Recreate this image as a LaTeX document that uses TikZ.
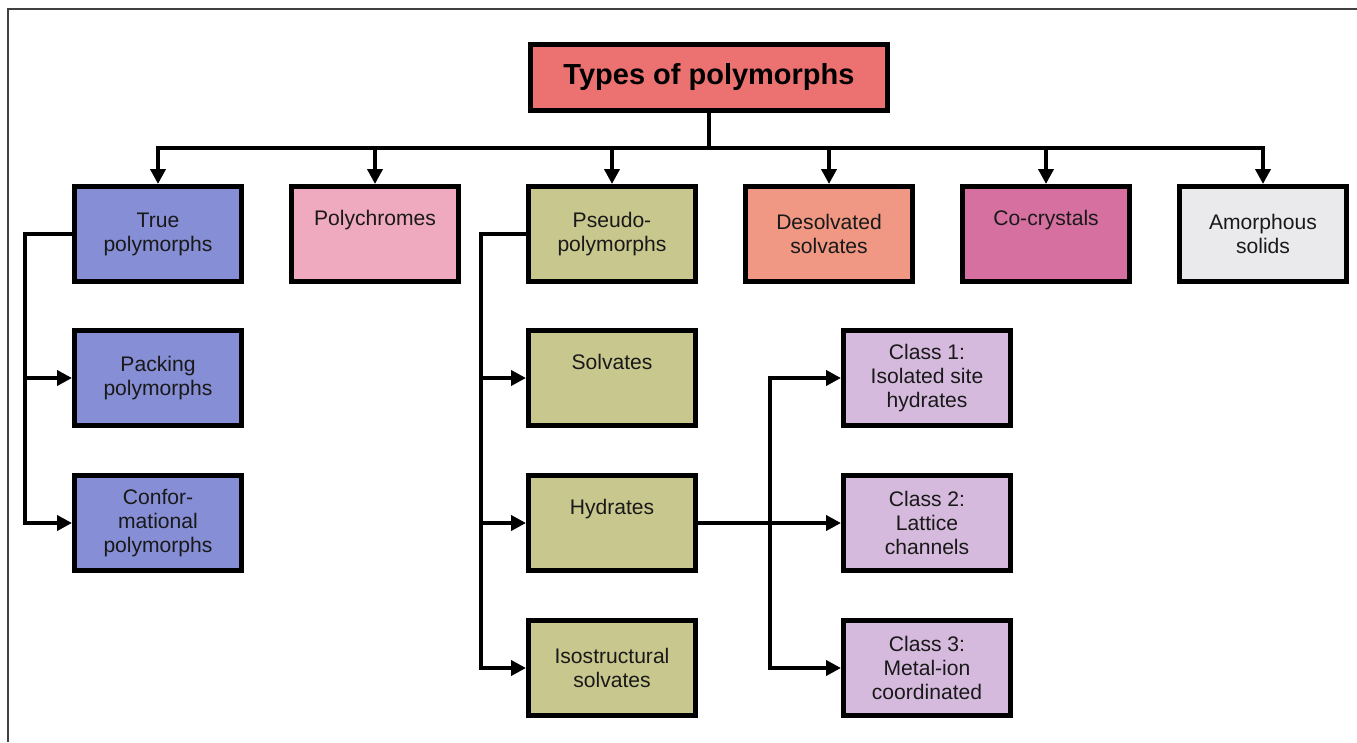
\documentclass[tikz,border=0pt]{standalone}
\usepackage{fontspec}
\setmainfont{Liberation Sans}
\usetikzlibrary{arrows.meta, positioning}
\definecolor{titlered}{RGB}{236,114,114}
\definecolor{periwinkle}{RGB}{134,142,214}
\definecolor{polypink}{RGB}{240,170,192}
\definecolor{khaki}{RGB}{200,200,142}
\definecolor{desolsalmon}{RGB}{240,152,132}
\definecolor{cocrystpink}{RGB}{214,112,160}
\definecolor{amorphgrey}{RGB}{234,234,236}
\definecolor{classlilac}{RGB}{214,186,222}

\begin{document}
\begin{tikzpicture}[
    node distance=0.9cm,
    box/.style={draw, line width=0.1cm, minimum width=3.34cm, minimum height=1.9cm, align=center, text=black!90, font=\fontsize{12}{13.7}\selectfont},
    oneline/.style={text height=9pt, text depth=19pt},
    titlebox/.style={draw, line width=0.1cm, fill=titlered, minimum width=7.14cm, minimum height=1.32cm, font=\fontsize{16.5}{19}\selectfont\bfseries},
    truebox/.style={box, fill=periwinkle},
    pseudobox/.style={box, fill=khaki},
    classbox/.style={box, fill=classlilac},
    conn/.style={line width=0.08cm, line cap=rect},
    arrow/.style={conn, -{Triangle[length=0.3cm, width=0.3cm]}}
]
\useasboundingbox (0,0) rectangle (27.14,-14.84);

% frame
\draw[line width=0.6pt, black!75] (0.16,-14.84) -- (0.16,-0.18) -- (27.14,-0.18);

\node[titlebox] (title) at (14.18,-1.55) {Types of polymorphs};

% first row
\node[truebox] (true) at (3.16,-4.68) {True\\polymorphs};
\node[box, fill=polypink, oneline, right=of true] (polychr) {Polychromes};
\node[pseudobox, right=1.3cm of polychr] (pseudo) {Pseudo-\\polymorphs};
\node[box, fill=desolsalmon, right=of pseudo] (desolv) {Desolvated\\solvates};
\node[box, fill=cocrystpink, oneline, right=of desolv] (cocryst) {Co-crystals};
\node[box, fill=amorphgrey, right=of cocryst] (amorph) {Amorphous\\solids};

% true polymorphs
\node[truebox, below=0.88cm of true] (packing) {Packing\\polymorphs};
\node[truebox, below=of packing] (conform) {Confor-\\mational\\polymorphs};

% pseudo-polymorphs
\node[pseudobox, oneline, below=0.88cm of pseudo] (solv) {Solvates};
\node[pseudobox, oneline, below=of solv] (hydr) {Hydrates};
\node[pseudobox, below=of hydr] (isostr) {Isostructural\\solvates};

% hydrate classes
\node[classbox, right=2.86cm of solv] (class1) {Class 1:\\Isolated site\\hydrates};
\node[classbox, below=of class1] (class2) {Class 2:\\Lattice\\channels};
\node[classbox, below=of class2] (class3) {Class 3:\\Metal-ion\\coordinated};

% connectors
\draw[conn] (title.south) -- ++(0,-0.7) coordinate (bus);
\foreach \n in {true,polychr,pseudo,desolv,cocryst,amorph}
    \draw[arrow] (bus) -| (\n.north);

\draw[conn] (true.west) -- ++(-0.94,0) coordinate (ltrunk);
\draw[arrow] (ltrunk) |- (packing.west);
\draw[arrow] (ltrunk) |- (conform.west);

\draw[conn] (pseudo.west) -- ++(-0.9,0) coordinate (mtrunk);
\foreach \n in {solv,hydr,isostr}
    \draw[arrow] (mtrunk) |- (\n.west);

\draw[arrow] (hydr.east) -- (class2.west);
\coordinate[right=1.44cm of hydr.east] (ctrunk);
\draw[arrow] (ctrunk) |- (class1.west);
\draw[arrow] (ctrunk) |- (class3.west);

\end{tikzpicture}
\end{document}
